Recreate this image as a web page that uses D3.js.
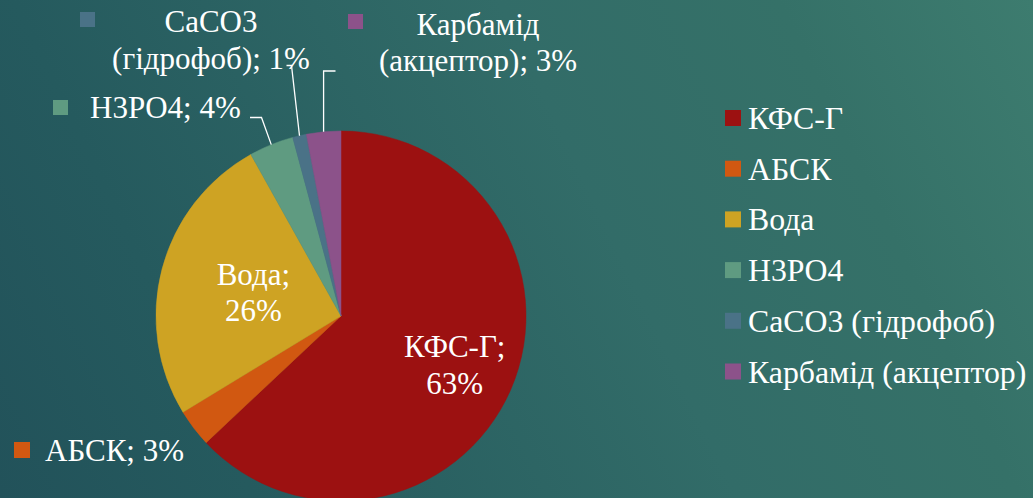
<!DOCTYPE html>
<html>
<head>
<meta charset="utf-8">
<script src="https://cdn.jsdelivr.net/npm/d3@7"></script>
<style>
  body { margin: 0; overflow: hidden; }
  svg { display: block; }
</style>
</head>
<body>
<div id="chart"></div>
<script>
// data
var categories = ['КФС-Г', 'АБСК', 'Вода', 'H3PO4', 'CaCO3 (гідрофоб)', 'Карбамід (акцептор)']
var shares = [63.0, 3.3, 25.6, 3.9, 1.2, 3.0]
var sliceColors = ['#9c1111', '#d15811', '#cea323', '#5f9b81', '#4a7287', '#8c528a']

var width = 1033
var height = 498
var cx = 341
var cy = 316
var radius = 185
var fontSize = 31
var legendFontSize = 31.8
var fontFamily = "'Liberation Serif'"

// label placement, by slice index (powerpoint put them by hand)
var labelLayout = [
  { inside: true, ratio: 0.67, lines: function (d) { return [d.name + ';', d.pct] } },
  { x: 45, y: 461, anchor: 'start', key: [14, 442, 16], lines: function (d) { return [d.name + '; ' + d.pct] } },
  { inside: true, ratio: 0.49, lines: function (d) { return [d.name + ';', d.pct] } },
  { x: 90, y: 118, anchor: 'start', key: [53, 100, 15], leader: [[250, 117.5], [261.5, 117.5]],
    lines: function (d) { return [d.name + '; ' + d.pct] } },
  { x: 211, y: 32, anchor: 'middle', key: [80, 12, 15], leader: [[286.5, 65.5], [291.5, 65.5]],
    lines: function (d) { return ['CaCO3', '(гідрофоб); ' + d.pct] } },
  { x: 478, y: 34.5, anchor: 'middle', key: [348, 14, 15], leader: [[335.5, 71], null],
    lines: function (d) { return ['Карбамід', '(акцептор); ' + d.pct] } }
]

var svg = d3.select('#chart')
  .append('svg')
  .attr('width', width)
  .attr('height', height)

// slide background, dark teal bottom-left to lighter green top-right
var defs = svg.append('defs')
var grad = defs.append('linearGradient')
  .attr('id', 'bg')
  .attr('gradientUnits', 'userSpaceOnUse')
  .attr('x1', 0).attr('y1', height)
  .attr('x2', width).attr('y2', 0)
grad.append('stop').attr('offset', '0%').attr('stop-color', '#22525a')
grad.append('stop').attr('offset', '20%').attr('stop-color', '#255a5e')
grad.append('stop').attr('offset', '58%').attr('stop-color', '#326c68')
grad.append('stop').attr('offset', '80%').attr('stop-color', '#357168')
grad.append('stop').attr('offset', '100%').attr('stop-color', '#3d7c6f')

svg.append('rect')
  .attr('width', width)
  .attr('height', height)
  .attr('fill', 'url(#bg)')

var data = categories.map(function (c, i) {
  return { name: c, value: shares[i], pct: Math.round(shares[i]) + '%' }
})

var color = d3.scaleOrdinal().domain(categories).range(sliceColors)

var pie = d3.pie()
  .sort(null)
  .value(function (d) { return d.value })

var arc = d3.arc().innerRadius(0).outerRadius(radius)

var g = svg.append('g')
  .attr('transform', 'translate(' + cx + ',' + cy + ')')

var arcs = pie(data)

g.selectAll('path.slice')
  .data(arcs)
  .enter()
  .append('path')
  .attr('class', 'slice')
  .attr('d', arc)
  .attr('fill', function (d) { return color(d.data.name) })
  .attr('stroke', function (d) { return color(d.data.name) })
  .attr('stroke-width', 0.5)

var lineHeight = 36.8

function addText (parent, x, y, anchor, lines, size) {
  var t = parent.append('text')
    .attr('text-anchor', anchor)
    .attr('font-size', size || fontSize)
    .attr('fill', '#fff')
    .style('font-family', fontFamily)
    .attr('x', x)
    .attr('y', y)
  lines.forEach(function (l, k) {
    t.append('tspan').attr('x', x).attr('dy', k === 0 ? 0 : lineHeight).text(l)
  })
  return t
}

arcs.forEach(function (d, i) {
  var lay = labelLayout[i]
  var lines = lay.lines(d.data)
  if (lay.inside) {
    var labelArc = d3.arc().innerRadius(radius * lay.ratio).outerRadius(radius * lay.ratio)
    var c = labelArc.centroid(d)
    addText(g, c[0], c[1] - lineHeight / 2 + 10, 'middle', lines)
    return
  }
  // outside label: legend key + text + leader
  svg.append('rect')
    .attr('x', lay.key[0])
    .attr('y', lay.key[1])
    .attr('width', lay.key[2])
    .attr('height', lay.key[2])
    .attr('fill', color(d.data.name))
  addText(svg, lay.x, lay.y, lay.anchor, lines)
  if (lay.leader) {
    var mid = (d.startAngle + d.endAngle) / 2
    var end = [cx + radius * Math.sin(mid), cy - radius * Math.cos(mid)]
    var elbow = lay.leader[1] || [end[0], lay.leader[0][1]]
    svg.append('path')
      .attr('d', d3.line()([lay.leader[0], elbow, end]))
      .attr('fill', 'none')
      .attr('stroke', '#fff')
      .attr('stroke-width', 1.3)
  }
})

// legend on the right
var legend = svg.append('g')
  .attr('transform', 'translate(725,110)')

var rows = legend.selectAll('g.row')
  .data(categories)
  .enter()
  .append('g')
  .attr('class', 'row')
  .attr('transform', function (_, i) { return 'translate(0,' + i * 50.7 + ')' })

rows.append('rect')
  .attr('width', 16)
  .attr('height', 16)
  .attr('fill', function (d) { return color(d) })

rows.each(function (d) {
  addText(d3.select(this), 23, 19, 'start', [d], legendFontSize)
})
</script>
</body>
</html>
